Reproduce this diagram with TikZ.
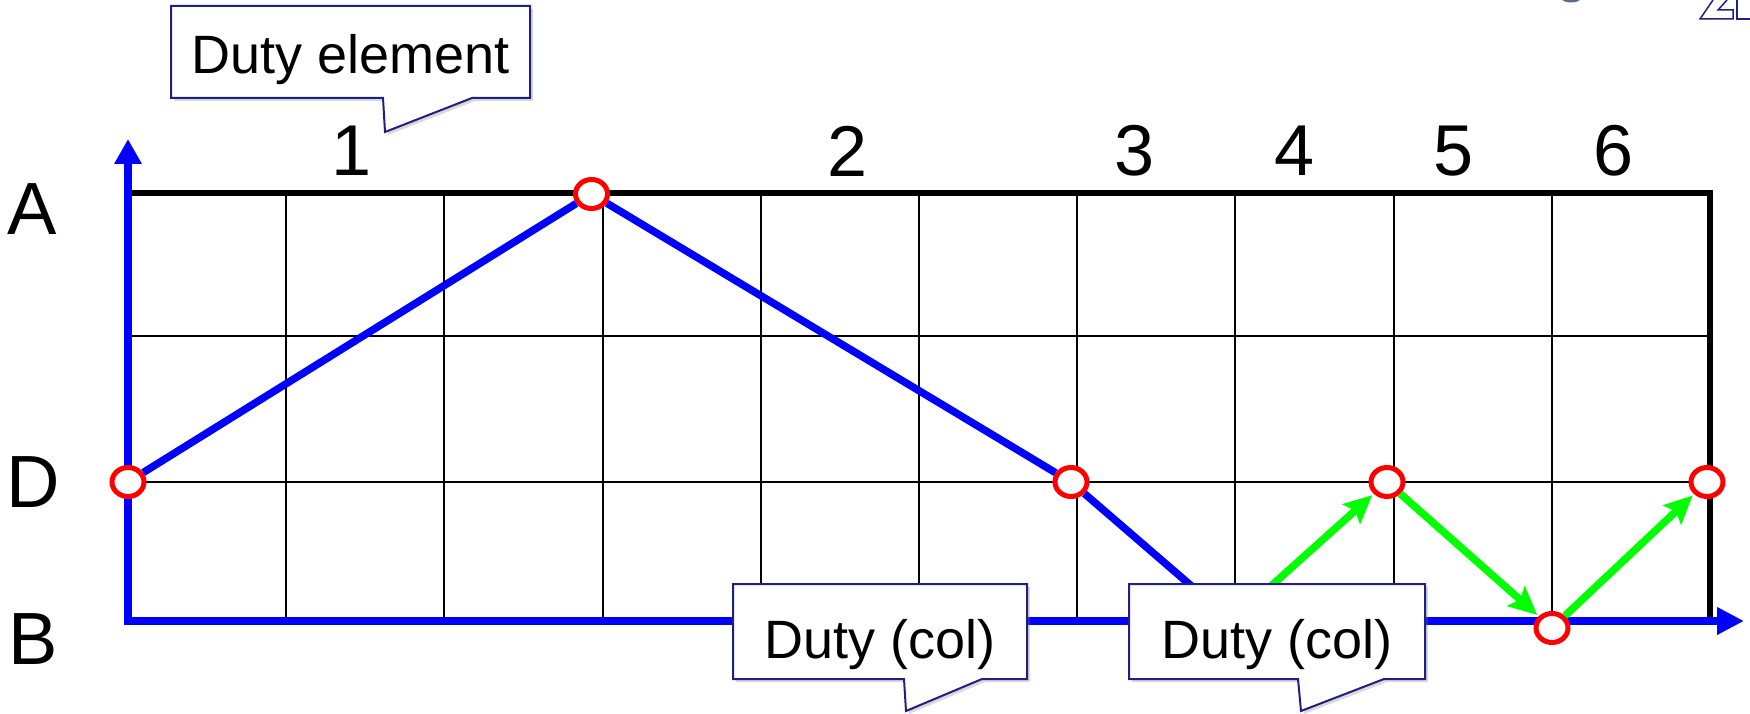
\documentclass[tikz,border=0pt]{standalone}
\usepackage{fontspec}
\setmainfont{Liberation Sans}
\usetikzlibrary{arrows.meta,shapes.geometric,shadows}
\definecolor{navy}{RGB}{32,32,128}
\definecolor{grn}{RGB}{0,255,0}
\definecolor{logogray}{RGB}{90,110,140}
\begin{document}
\begin{tikzpicture}[x=1pt,y=-1pt,
  gridline/.style={black,line width=2pt},
  frameline/.style={black,line width=6pt,line join=miter},
  axisline/.style={blue,line width=7.5pt,line join=miter},
  blueline/.style={blue,line width=7.5pt},
  garrow/.style={grn,line width=7.5pt,shorten >=2pt,-{Stealth[length=28pt,width=26pt,inset=5pt]}},
  dot/.style={ellipse,draw=red,fill=white,line width=5pt,minimum width=32pt,minimum height=29pt,inner sep=0pt},
  callout/.style={draw=navy,fill=white,line width=2pt,line join=miter,drop shadow={opacity=0.3,shadow xshift=3pt,shadow yshift=-3pt}},
  ctext/.style={font=\fontsize{54}{60}\selectfont,anchor=base,inner sep=0pt},
  axlabel/.style={font=\fontsize{74}{80}\selectfont,inner sep=0pt},
  numlabel/.style={font=\fontsize{72}{80}\selectfont,inner sep=0pt}]
\useasboundingbox (0,0) rectangle (1750,714);

% logo fragments at top right
\fill[logogray] (1571,-1) ellipse (9pt and 3.5pt);
\draw[navy,line width=1.5pt,line join=miter] (1713,0) -- (1700,19) -- (1733,19) -- (1733,10) -- (1718,10) -- (1727,0);
\draw[navy,line width=1.5pt] (1737,0) -- (1737,19) -- (1750,19);

% grid
\coordinate (O) at (128,621);
\coordinate (Ytop) at (128,139);
\coordinate (Xend) at (1744,621);
\coordinate (TL) at (128,193);
\coordinate (TR) at (1710,193);
\coordinate (BR) at (1710,623);
\foreach \i in {1,...,9} \draw[gridline] (128+158.2*\i,193) -- (128+158.2*\i,620);
\draw[gridline] (128,336) -- (1710,336);
\draw[gridline] (128,482) -- (1710,482);
\draw[frameline] (TL) -- (TR) -- (BR);

% axes
\draw[axisline,{Triangle[length=25pt,width=26pt]}-{Triangle[length=27pt,width=26pt]}] (Ytop) -- (O) -- (Xend);

% labels
\node[axlabel] (lA) at (32,209) {A};
\node[axlabel] (lD) at (33,482) {D};
\node[axlabel] (lB) at (33,639) {B};
\node[numlabel] (n1) at (352,151) {1};
\node[numlabel] (n2) at (848,151) {2};
\node[numlabel] (n3) at (1135,151) {3};
\node[numlabel] (n4) at (1295,151) {4};
\node[numlabel] (n5) at (1454,151) {5};
\node[numlabel] (n6) at (1613,151) {6};

% points
\node[dot] (c0) at (128,482) {};
\node[dot] (c1) at (591.5,194) {};
\node[dot] (c2) at (1071,482) {};
\node[dot] (c3) at (1387,482) {};
\node[dot] (c4) at (1552,628) {};
\node[dot] (c5) at (1707,482) {};
\coordinate (q) at (1232,621);

\draw[blueline] (c0) -- (c1) -- (c2) -- (q);
\draw[garrow] (q) -- (c3);
\draw[garrow] (c3) -- (c4);
\draw[garrow] (c4) -- (c5);

% callouts
\draw[callout] (171,6) -- (530,6) -- (530,98) -- (472,98) -- (385,132) -- (383,98) -- (171,98) -- cycle;
\node[ctext] (t1) at (351,74) {Duty element};
\draw[callout] (733,584) -- (1027,584) -- (1027,679) -- (982,679) -- (906,711) -- (904,679) -- (733,679) -- cycle;
\node[ctext] (t2) at (880,658) {Duty (col)};
\draw[callout] (1129,584) -- (1425,584) -- (1425,679) -- (1384,679) -- (1301,711) -- (1298,679) -- (1129,679) -- cycle;
\node[ctext] (t3) at (1277,658) {Duty (col)};
\end{tikzpicture}
\end{document}
